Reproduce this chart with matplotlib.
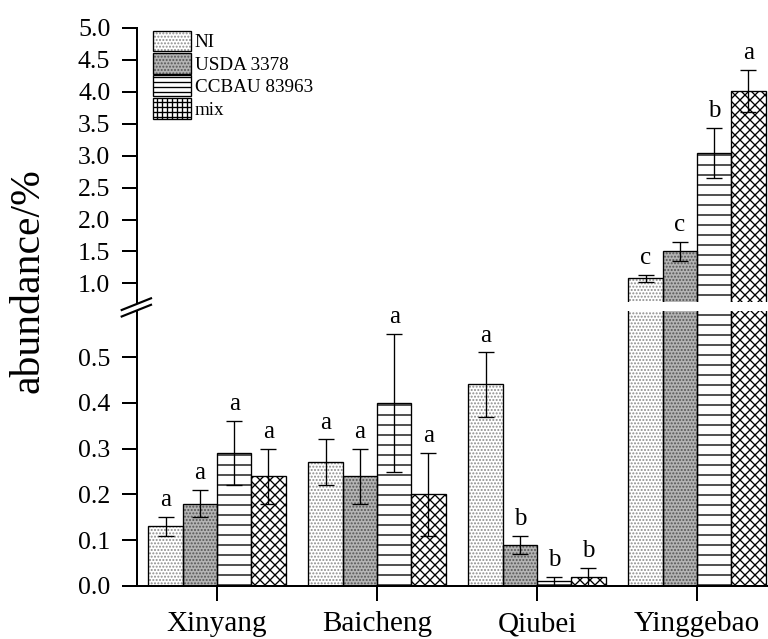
import numpy as np
import matplotlib
matplotlib.use("Agg")
import matplotlib.pyplot as plt
from matplotlib.patches import Patch
from matplotlib.lines import Line2D
from matplotlib.legend_handler import HandlerTuple

plt.rcParams['font.family'] = ['Liberation Serif', 'DejaVu Serif']
plt.rcParams['hatch.linewidth'] = 0.8

sites = ['Xinyang', 'Baicheng', 'Qiubei', 'Yinggebao']
treatments = ['NI', 'USDA 3378', 'CCBAU 83963', 'mix']

ni = [0.13, 0.27, 0.44, 1.08]
ni_err = [0.02, 0.05, 0.07, 0.05]
ni_sig = ['a', 'a', 'a', 'c']

usda = [0.18, 0.24, 0.09, 1.50]
usda_err = [0.03, 0.06, 0.02, 0.15]
usda_sig = ['a', 'a', 'b', 'c']

ccbau = [0.29, 0.40, 0.01, 3.04]
ccbau_err = [0.07, 0.15, 0.01, 0.39]
ccbau_sig = ['a', 'a', 'b', 'b']

mix = [0.24, 0.20, 0.02, 4.01]
mix_err = [0.06, 0.09, 0.02, 0.33]
mix_sig = ['a', 'a', 'b', 'a']

upper_ticks = [1.0, 1.5, 2.0, 2.5, 3.0, 3.5, 4.0, 4.5, 5.0]
lower_ticks = [0.0, 0.1, 0.2, 0.3, 0.4, 0.5]

series = [ni, usda, ccbau, mix]
errors = [ni_err, usda_err, ccbau_err, mix_err]
sigs = [ni_sig, usda_sig, ccbau_sig, mix_sig]
faces = ['white', '#b4b4b4', 'white', 'white']
hatch_cols = ['#8c8c8c', '#555555', 'black', 'black']
hatches = ['......', '......', '--', 'xxxx']
legend_hatches = ['......', '......', '----', '++++']

W, H = 768, 639
DPI = 120
fig = plt.figure(figsize=(W / DPI, H / DPI), dpi=DPI)

left = 137 / W
width = 640 / W
ax_up = fig.add_axes([left, 1 - 302 / H, width, (302 - 27.7) / H])
ax_lo = fig.add_axes([left, 1 - 586 / H, width, (586 - 311.2) / H])

LOW_MAX = 0.6
UP_MIN = 0.71
ax_up.set_ylim(UP_MIN, 5.0)
ax_lo.set_ylim(0, LOW_MAX)

x = np.arange(len(sites))
bw = 0.2144
offsets = (np.arange(4) - 1.5) * bw

for ax in (ax_up, ax_lo):
    for k in range(4):
        # hatch layer (hatch takes the edge colour), then a black outline
        ax.bar(x + offsets[k], series[k], bw, facecolor=faces[k], edgecolor=hatch_cols[k],
               hatch=hatches[k], linewidth=0, zorder=2)
        ax.bar(x + offsets[k], series[k], bw, facecolor='none', edgecolor='black',
               linewidth=0.8, zorder=2.5)
        ax.errorbar(x + offsets[k], series[k], yerr=errors[k], fmt='none', ecolor='black',
                    elinewidth=0.8, capsize=4.8, capthick=0.8, zorder=3)
    ax.set_xlim(-0.5, 3.5)
    for s in ('top', 'right'):
        ax.spines[s].set_visible(False)
    ax.spines['left'].set_linewidth(1.2)
    ax.spines['bottom'].set_linewidth(1.2)
    ax.tick_params(axis='y', direction='out', length=9, width=1.2, labelsize=15.5, pad=7)
    ax.patch.set_alpha(0)

ax_up.spines['bottom'].set_visible(False)
ax_up.set_xticks([])
ax_up.set_yticks(upper_ticks)
ax_up.set_yticklabels([f'{t:.1f}' for t in upper_ticks])
ax_lo.set_yticks(lower_ticks)
ax_lo.set_yticklabels([f'{t:.1f}' for t in lower_ticks])
ax_lo.set_xticks(x)
ax_lo.set_xticklabels(sites)
ax_lo.tick_params(axis='x', direction='out', length=9, width=1.2, labelsize=17.5, pad=6)

# significance letters
for k in range(4):
    for i in range(4):
        top = series[k][i] + errors[k][i]
        ax = ax_lo if top < LOW_MAX else ax_up
        ax.annotate(sigs[k][i], (x[i] + offsets[k], top), xytext=(0, 6.5),
                    textcoords='offset points', ha='center', va='baseline', fontsize=15)

# break marks on the y axis
for dy in (0.0, 6.5):
    y0 = 1 - (310 + dy) / H
    y1 = 1 - (298.3 + dy) / H
    fig.add_artist(Line2D([121.7 / W, 151 / W], [y0, y1], color='black', lw=1.3,
                          transform=fig.transFigure))

fig.text(28 / W, 1 - 281 / H, 'abundance/%', rotation=90, ha='center', va='center',
         fontsize=25)

handles = [(Patch(facecolor=faces[k], edgecolor=hatch_cols[k], hatch=legend_hatches[k],
                  linewidth=0),
            Patch(facecolor='none', edgecolor='black', linewidth=0.8))
           for k in range(4)]
ax_up.legend(handles, treatments, loc='upper left', bbox_to_anchor=(0.02, 1.0), frameon=False,
             fontsize=11.5, handlelength=2.0, handleheight=1.3, labelspacing=0.08,
             handletextpad=0.2, borderaxespad=0.0, borderpad=0.15,
             handler_map={tuple: HandlerTuple(ndivide=1)})

fig.savefig('out.png', dpi=DPI)
